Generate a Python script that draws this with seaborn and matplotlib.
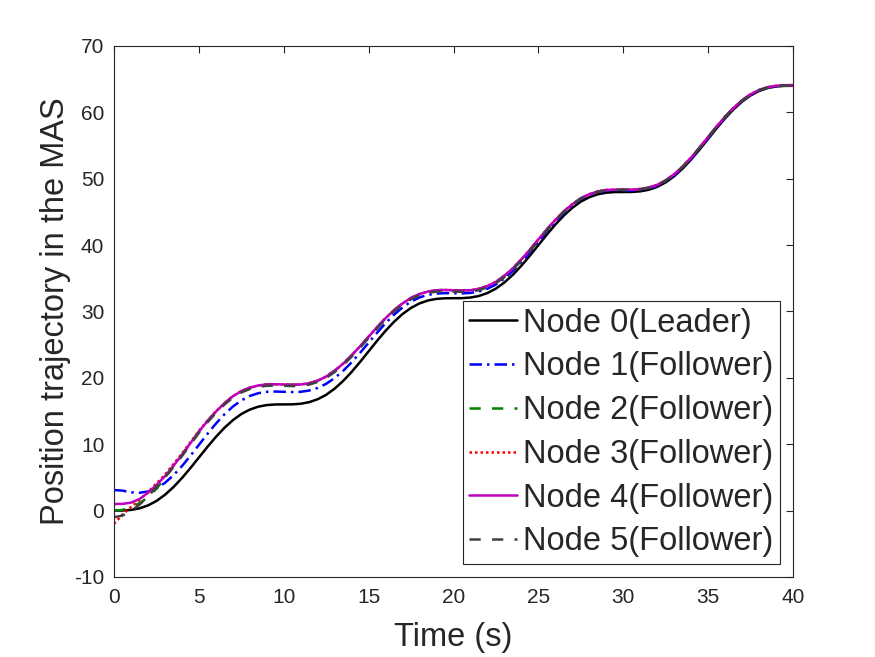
import matplotlib
matplotlib.use("Agg")
import matplotlib.pyplot as plt
import seaborn as sns
import pandas as pd

# time samples (s), every 0.5 s
time_s = [0, 0.5, 1, 1.5, 2, 2.5, 3, 3.5, 4, 4.5, 5, 5.5, 6, 6.5, 7, 7.5, 8, 8.5, 9, 9.5,
          10, 10.5, 11, 11.5, 12, 12.5, 13, 13.5, 14, 14.5, 15, 15.5, 16, 16.5, 17, 17.5,
          18, 18.5, 19, 19.5, 20, 20.5, 21, 21.5, 22, 22.5, 23, 23.5, 24, 24.5, 25, 25.5,
          26, 26.5, 27, 27.5, 28, 28.5, 29, 29.5, 30, 30.5, 31, 31.5, 32, 32.5, 33, 33.5,
          34, 34.5, 35, 35.5, 36, 36.5, 37, 37.5, 38, 38.5, 39, 39.5, 40]

node0 = [0.00, 0.01, 0.10, 0.34, 0.78, 1.45, 2.38, 3.54, 4.90, 6.41, 8.00, 9.59, 11.10,
         12.46, 13.62, 14.55, 15.22, 15.66, 15.90, 15.99, 16.00, 16.01, 16.10, 16.34, 16.78,
         17.45, 18.38, 19.54, 20.90, 22.41, 24.00, 25.59, 27.10, 28.46, 29.62, 30.55, 31.22,
         31.66, 31.90, 31.99, 32.00, 32.01, 32.10, 32.34, 32.78, 33.45, 34.38, 35.54, 36.90,
         38.41, 40.00, 41.59, 43.10, 44.46, 45.62, 46.55, 47.22, 47.66, 47.90, 47.99, 48.00,
         48.01, 48.10, 48.34, 48.78, 49.45, 50.38, 51.54, 52.90, 54.41, 56.00, 57.59, 59.10,
         60.46, 61.62, 62.55, 63.22, 63.66, 63.90, 63.99, 64.00]
node1 = [3.10, 3.01, 2.75, 2.69, 2.88, 3.35, 4.18, 5.32, 6.70, 8.26, 9.90, 11.54, 13.10,
         14.49, 15.67, 16.60, 17.27, 17.69, 17.90, 17.94, 17.90, 17.86, 17.90, 18.09, 18.48,
         19.10, 19.98, 21.06, 22.35, 23.79, 25.30, 26.81, 28.25, 29.53, 30.62, 31.50, 32.12,
         32.51, 32.70, 32.76, 32.75, 32.73, 32.80, 33.01, 33.43, 34.07, 34.98, 36.11, 37.45,
         38.93, 40.50, 42.06, 43.55, 44.88, 46.02, 46.92, 47.57, 47.98, 48.20, 48.26, 48.25,
         48.23, 48.30, 48.54, 48.98, 49.62, 50.53, 51.69, 53.05, 54.56, 56.15, 57.71, 59.20,
         60.56, 61.72, 62.62, 63.27, 63.71, 63.95, 64.04, 64.05]
node2 = [0.00, 0.10, 0.55, 1.10, 2.00, 3.30, 4.90, 6.74, 8.40, 10.16, 11.90, 13.49, 14.90,
         16.16, 17.22, 18.00, 18.52, 18.86, 19.00, 19.04, 19.00, 18.96, 19.00, 19.19, 19.58,
         20.20, 21.08, 22.14, 23.40, 24.76, 26.20, 27.64, 29.00, 30.21, 31.22, 32.05, 32.62,
         33.01, 33.20, 33.24, 33.20, 33.16, 33.20, 33.41, 33.83, 34.47, 35.38, 36.51, 37.85,
         39.31, 40.85, 42.37, 43.80, 45.08, 46.17, 47.05, 47.67, 48.08, 48.30, 48.36, 48.35,
         48.36, 48.45, 48.66, 49.08, 49.75, 50.68, 51.84, 53.20, 54.71, 56.30, 57.87, 59.35,
         60.68, 61.82, 62.72, 63.37, 63.78, 64.00, 64.09, 64.10]
node3 = [-2.00, -0.60, 0.55, 1.60, 2.80, 4.10, 5.40, 7.00, 8.60, 10.30, 12.00, 13.55, 14.95,
         16.16, 17.22, 18.00, 18.52, 18.86, 19.00, 19.04, 19.00, 18.96, 19.00, 19.19, 19.58,
         20.20, 21.08, 22.14, 23.40, 24.76, 26.20, 27.64, 29.00, 30.21, 31.22, 32.05, 32.62,
         33.01, 33.20, 33.24, 33.20, 33.16, 33.20, 33.41, 33.83, 34.47, 35.38, 36.51, 37.85,
         39.31, 40.85, 42.37, 43.80, 45.08, 46.17, 47.05, 47.67, 48.08, 48.30, 48.36, 48.35,
         48.36, 48.45, 48.66, 49.08, 49.75, 50.68, 51.84, 53.20, 54.71, 56.30, 57.87, 59.35,
         60.68, 61.82, 62.72, 63.37, 63.78, 64.00, 64.09, 64.10]
node4 = [1.00, 1.01, 1.20, 1.74, 2.68, 3.85, 5.18, 6.74, 8.40, 10.16, 11.90, 13.49, 14.90,
         16.16, 17.22, 18.00, 18.52, 18.86, 19.00, 19.04, 19.00, 18.96, 19.00, 19.19, 19.58,
         20.20, 21.08, 22.14, 23.40, 24.76, 26.20, 27.64, 29.00, 30.21, 31.22, 32.05, 32.62,
         33.01, 33.20, 33.24, 33.20, 33.16, 33.20, 33.41, 33.83, 34.47, 35.38, 36.51, 37.85,
         39.31, 40.85, 42.37, 43.80, 45.08, 46.17, 47.05, 47.67, 48.08, 48.30, 48.36, 48.35,
         48.36, 48.45, 48.66, 49.08, 49.75, 50.68, 51.84, 53.20, 54.71, 56.30, 57.87, 59.35,
         60.68, 61.82, 62.72, 63.37, 63.78, 64.00, 64.09, 64.10]
node5 = [-1.00, -0.75, -0.05, 0.90, 2.10, 3.55, 5.00, 6.54, 8.20, 9.96, 11.70, 13.29, 14.70,
         15.96, 17.02, 17.80, 18.32, 18.66, 18.80, 18.84, 18.80, 18.76, 18.80, 18.99, 19.38,
         20.00, 20.88, 21.94, 23.20, 24.56, 26.00, 27.44, 28.80, 30.01, 31.02, 31.85, 32.42,
         32.81, 33.00, 33.04, 33.00, 32.96, 33.00, 33.21, 33.63, 34.27, 35.18, 36.31, 37.65,
         39.11, 40.65, 42.22, 43.70, 45.00, 46.11, 47.00, 47.62, 48.03, 48.25, 48.31, 48.30,
         48.31, 48.40, 48.61, 49.03, 49.70, 50.63, 51.79, 53.15, 54.66, 56.25, 57.82, 59.30,
         60.63, 61.77, 62.67, 63.32, 63.73, 63.95, 64.04, 64.05]

labels = ["Node 0(Leader)", "Node 1(Follower)", "Node 2(Follower)",
          "Node 3(Follower)", "Node 4(Follower)", "Node 5(Follower)"]
series = [node0, node1, node2, node3, node4, node5]
colors = ["#000000", "#0000FF", "#008000", "#FF0000", "#BF00BF", "#404040"]
styles = ["-", (0, (5, 2, 1, 2)), (0, (4.5, 4.5)), (0, (1, 1.2)), "-", (0, (4.5, 4.5))]

sns.set_theme(style="white")
plt.rcParams["font.family"] = ["Liberation Sans", "DejaVu Sans"]
plt.rcParams["axes.unicode_minus"] = False

fig = plt.figure(figsize=(8.75, 6.57), dpi=100)
ax = fig.add_axes([0.1303, 0.1218, 0.776, 0.8082])

for lab, vals, c, ls in zip(labels, series, colors, styles):
    df = pd.DataFrame({"t": time_s, "x": vals})
    sns.lineplot(data=df, x="t", y="x", ax=ax, color=c, linestyle=ls,
                 linewidth=1.8, label=lab, estimator=None)

ax.set_xlim(0, 40)
ax.set_ylim(-10, 70)
ax.set_xticks(range(0, 41, 5))
ax.set_yticks(range(-10, 71, 10))
ax.tick_params(direction="in", length=5, width=0.8, colors="#262626",
               labelsize=15, top=True, right=True, labelcolor="#262626", pad=7)
ax.tick_params(axis="x", pad=8)
for sp in ax.spines.values():
    sp.set_color("#262626")
    sp.set_linewidth(0.8)
    sp.set_visible(True)

ax.set_xlabel("Time (s)", fontsize=23.5, color="#262626", labelpad=11)
ax.set_ylabel("Position trajectory in the MAS", fontsize=23.5, color="#262626", labelpad=2)

leg = ax.legend(loc="lower right", fontsize=23.5, handlelength=1.45,
                handletextpad=0.2, labelspacing=0.39, borderaxespad=0.4,
                borderpad=0.2, fancybox=False, framealpha=1, edgecolor="#262626")
leg.get_frame().set_linewidth(0.8)

fig.savefig("out.png", dpi=100)
